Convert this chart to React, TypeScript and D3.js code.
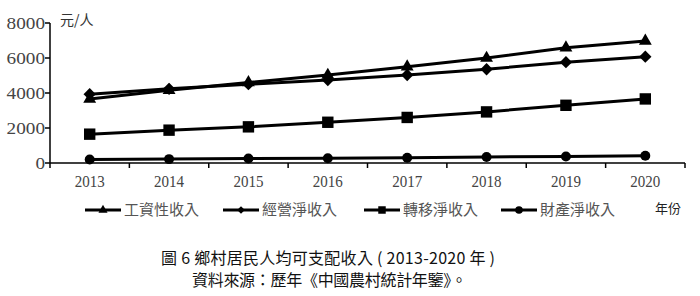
import React from "react";
import * as d3 from "d3";

const years = ["2013", "2014", "2015", "2016", "2017", "2018", "2019", "2020"];
const wage = [3653, 4152, 4600, 5022, 5498, 5996, 6583, 6974];
const business = [3935, 4237, 4504, 4741, 5028, 5358, 5762, 6077];
const transfer = [1648, 1877, 2066, 2328, 2603, 2920, 3298, 3661];
const property = [195, 222, 252, 272, 303, 342, 377, 419];
const yTicks = [0, 2000, 4000, 6000, 8000];
const seriesNames = ["工資性收入", "經營淨收入", "轉移淨收入", "財產淨收入"];

const W = 700;
const H = 296;

export default function App() {
  const x = d3.scaleBand<string>().domain(years).range([50, 685]).padding(0);
  const y = d3.scaleLinear().domain([0, 8000]).range([163, 23]);
  const cx = (yr: string) => (x(yr) as number) + x.bandwidth() / 2;

  const series = [
    { name: seriesNames[0], values: wage, sym: d3.symbolTriangle, size: 72, lsize: 36, rot: 0 },
    { name: seriesNames[1], values: business, sym: d3.symbolSquare, size: 76, lsize: 30, rot: 45 },
    { name: seriesNames[2], values: transfer, sym: d3.symbolSquare, size: 130, lsize: 56, rot: 0 },
    { name: seriesNames[3], values: property, sym: d3.symbolCircle, size: 78, lsize: 46, rot: 0 },
  ];

  const line = d3
    .line<number>()
    .x((_, i) => cx(years[i]))
    .y((d) => y(d));

  const legendX = [85, 223, 364, 501];
  const legendLineW = 36;
  const legendY = 210;

  const boundaries = years.map((yr) => x(yr) as number).concat([685]);

  return (
    <svg width={W} height={H} style={{ position: "absolute", left: 0, top: 0, background: "#fff" }}>
      {/* axes */}
      <line x1={50} x2={50} y1={23} y2={163} stroke="#000" strokeWidth={1.5} />
      <line x1={50} x2={685} y1={163} y2={163} stroke="#000" strokeWidth={1.5} />
      {yTicks.map((t) => (
        <g key={t}>
          <line x1={45} x2={50} y1={y(t)} y2={y(t)} stroke="#000" strokeWidth={1.5} />
          <text
            x={45}
            y={y(t)}
            dy="0.35em"
            textAnchor="end"
            fontFamily="'Liberation Serif', serif"
            fontSize={16}
            fill="#444"
            textLength={String(t).length * 9.6}
            lengthAdjust="spacingAndGlyphs"
          >
            {t}
          </text>
        </g>
      ))}
      {boundaries.map((b, i) => (
        <line key={i} x1={b} x2={b} y1={163} y2={168} stroke="#000" strokeWidth={1.5} />
      ))}
      {years.map((yr) => (
        <text
          key={yr}
          x={cx(yr)}
          y={187}
          textAnchor="middle"
          fontFamily="'Liberation Serif', serif"
          fontSize={16}
          fill="#444"
          textLength={30}
          lengthAdjust="spacingAndGlyphs"
        >
          {yr}
        </text>
      ))}
      <text x={60} y={25} fontFamily="'Noto Sans CJK TC', sans-serif" fontSize={14} fill="#333">
        元/人
      </text>

      {/* series */}
      {series.map((s) => (
        <g key={s.name}>
          <path d={line(s.values) || ""} fill="none" stroke="#000" strokeWidth={3} />
          {s.values.map((v, i) => (
            <path
              key={i}
              d={d3.symbol().type(s.sym).size(s.size)() || ""}
              transform={`translate(${cx(years[i])},${y(v)}) rotate(${s.rot})`}
              fill="#000"
            />
          ))}
        </g>
      ))}

      {/* legend */}
      {series.map((s, i) => (
        <g key={s.name}>
          <line
            x1={legendX[i]}
            x2={legendX[i] + legendLineW}
            y1={legendY}
            y2={legendY}
            stroke="#000"
            strokeWidth={3}
          />
          <path
            d={d3.symbol().type(s.sym).size(s.lsize)() || ""}
            transform={`translate(${legendX[i] + legendLineW / 2},${legendY}) rotate(${s.rot})`}
            fill="#000"
          />
          <text
            x={legendX[i] + legendLineW + 3}
            y={legendY}
            dy="0.36em"
            fontFamily="'Noto Sans CJK TC', sans-serif"
            fontSize={15}
            fill="#555"
          >
            {s.name}
          </text>
        </g>
      ))}
      <text
        x={655}
        y={legendY - 2}
        dy="0.36em"
        fontFamily="'Noto Sans CJK TC', sans-serif"
        fontSize={13}
        fill="#222"
      >
        年份
      </text>

      {/* caption */}
      <text
        x={161}
        y={258}
        dy="0.36em"
        fontFamily="'Noto Sans CJK TC', sans-serif"
        fontSize={16}
        fill="#111"
        textLength={334}
        lengthAdjust="spacing"
      >
        圖 6 鄉村居民人均可支配收入 ( 2013-2020 年 )
      </text>
      <text
        x={192}
        y={280}
        dy="0.36em"
        fontFamily="'Noto Sans CJK TC', sans-serif"
        fontSize={16}
        fill="#111"
        textLength={275}
        lengthAdjust="spacing"
      >
        資料來源：歷年《中國農村統計年鑒》。
      </text>
    </svg>
  );
}
